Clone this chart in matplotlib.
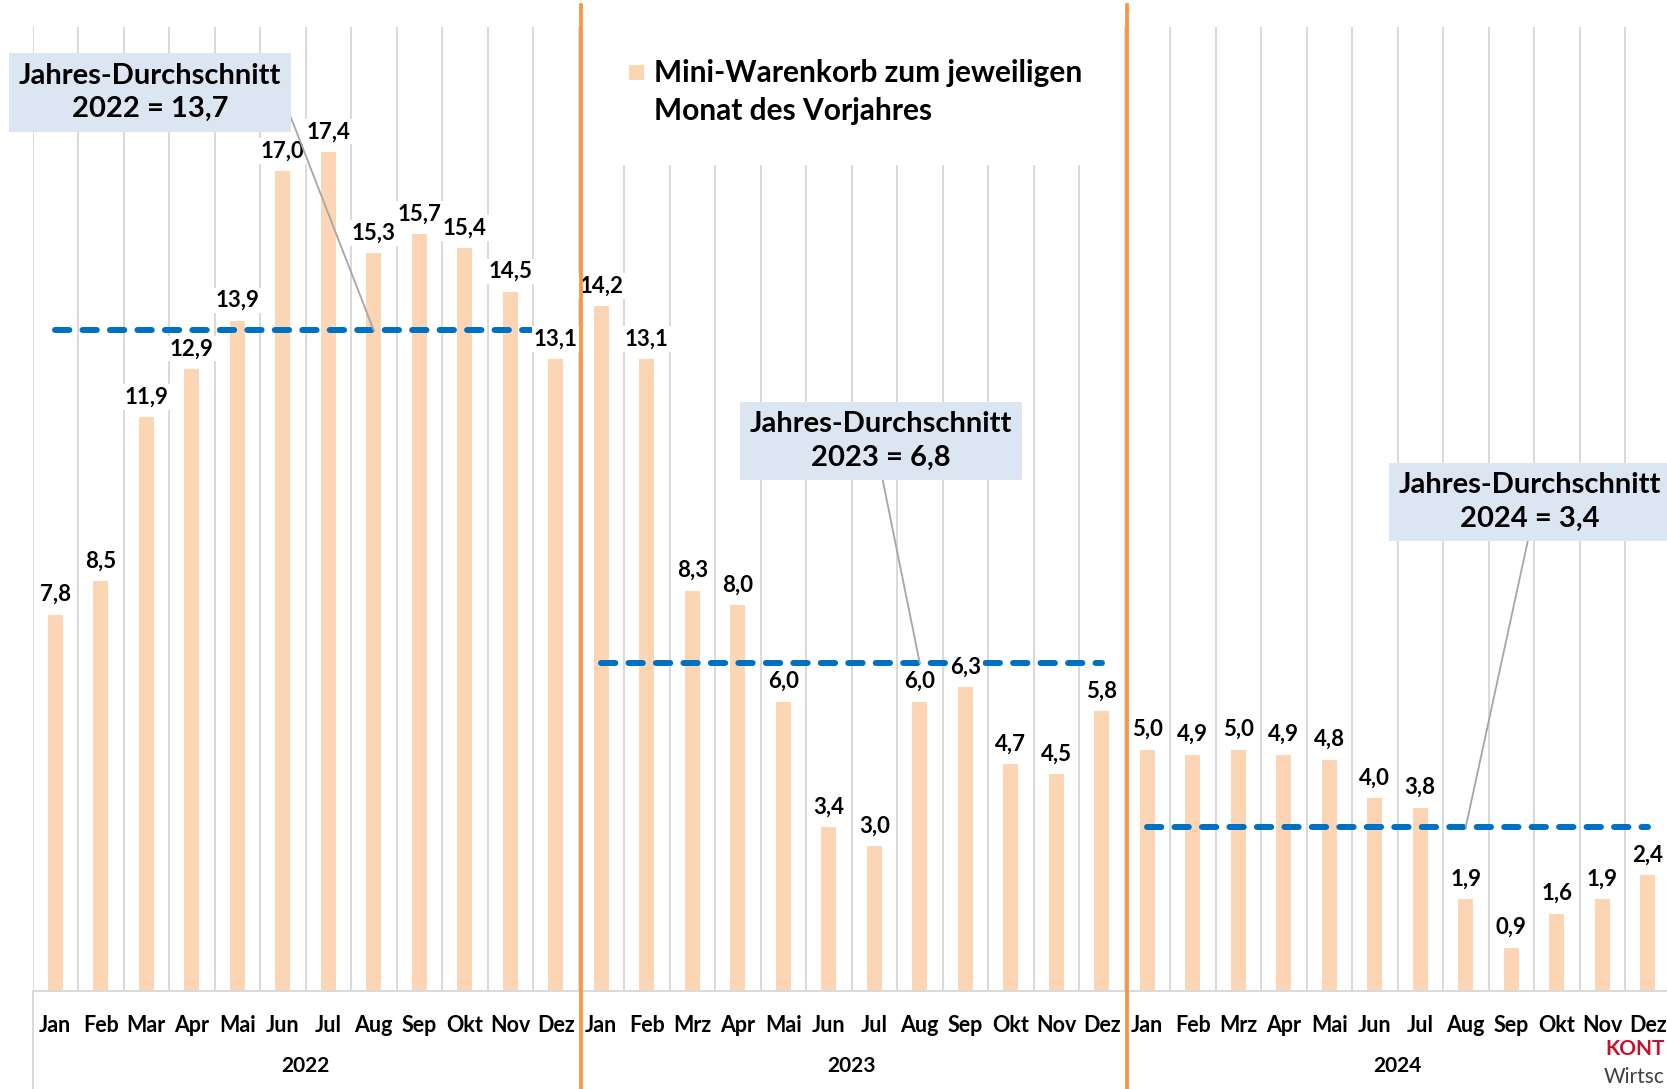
import numpy as np
import matplotlib
matplotlib.use("Agg")
import matplotlib.pyplot as plt
from matplotlib.patches import Rectangle
from matplotlib import transforms

plt.rcParams['font.family'] = ['Lato', 'DejaVu Sans']

# data
years = ['2022', '2023', '2024']
months_2022 = ['Jan', 'Feb', 'Mar', 'Apr', 'Mai', 'Jun', 'Jul', 'Aug', 'Sep', 'Okt', 'Nov', 'Dez']
months_2023 = ['Jan', 'Feb', 'Mrz', 'Apr', 'Mai', 'Jun', 'Jul', 'Aug', 'Sep', 'Okt', 'Nov', 'Dez']
months_2024 = ['Jan', 'Feb', 'Mrz', 'Apr', 'Mai', 'Jun', 'Jul', 'Aug', 'Sep', 'Okt', 'Nov', 'Dez']
vals_2022 = [7.8, 8.5, 11.9, 12.9, 13.9, 17.0, 17.4, 15.3, 15.7, 15.4, 14.5, 13.1]
vals_2023 = [14.2, 13.1, 8.3, 8.0, 6.0, 3.4, 3.0, 6.0, 6.3, 4.7, 4.5, 5.8]
vals_2024 = [5.0, 4.9, 5.0, 4.9, 4.8, 4.0, 3.8, 1.9, 0.9, 1.6, 1.9, 2.4]
averages = [13.7, 6.8, 3.4]
avg_texts = ['Jahres-Durchschnitt\n2022 = 13,7',
             'Jahres-Durchschnitt\n2023 = 6,8',
             'Jahres-Durchschnitt\n2024 = 3,4']
legend_label = 'Mini-Warenkorb zum jeweiligen\nMonat des Vorjahres'

BAR = '#FCD5B5'
BLUE = '#0070C0'
ORANGE = '#F79646'
GRID = '#D9D9D9'
BOX = '#DCE6F2'

W, H = 1667, 1089
fig = plt.figure(figsize=(W / 100, H / 100), dpi=100)
ax = fig.add_axes([32.5 / W, 1 - 991 / H, 1638 / W, (991 - 26.6) / H])

months = months_2022 + months_2023 + months_2024
values = vals_2022 + vals_2023 + vals_2024
x = np.arange(len(values))

ax.bar(x, values, width=0.33, color=BAR, zorder=2)

ax.set_xlim(-0.5, len(values) - 0.5)
ax.set_ylim(0, 20)
ax.set_yticks([])
ax.set_xticks(x, labels=months, fontsize=15.5, fontweight='bold')
ax.set_xticks(np.arange(-0.5, len(values), 1), minor=True)
ax.tick_params(axis='x', which='both', length=0, pad=17)
ax.grid(which='minor', axis='x', color=GRID, lw=1.4)
ax.set_axisbelow(True)
for s in ['top', 'right', 'left']:
    ax.spines[s].set_visible(False)
ax.spines['bottom'].set_color(GRID)
ax.spines['bottom'].set_linewidth(1.4)
ax.axvline(-0.5, ymin=-0.11, ymax=0, color=GRID, lw=1.4, clip_on=False)

# data labels
for xi, v in zip(x, values):
    ax.annotate(f'{v:.1f}'.replace('.', ','), (xi, v), xytext=(0, 7),
                textcoords='offset points', ha='center', va='bottom',
                fontsize=16, fontweight='bold',
                bbox=dict(boxstyle='square,pad=0.1', fc='white', ec='none'),
                zorder=5)

# yearly average lines
box_centers = [(150, H - 92.5), (880.8, H - 441), (1529.8, H - 502)]
rel = [(1.0, 0.5), (0.5, 0.0), (0.5, 0.0)]
trans = transforms.blended_transform_factory(ax.transData, ax.transAxes)
for k, yr in enumerate(years):
    xs = x[12 * k:12 * k + 12]
    ax.plot(xs, [averages[k]] * len(xs), color=BLUE, lw=4.3,
            ls=(0, (2.4, 2.2)), dash_capstyle='round', zorder=3)
    ax.annotate(avg_texts[k], xy=(12 * k + 7, averages[k]), xytext=box_centers[k],
                textcoords='figure pixels', ha='center', va='center',
                fontsize=21, fontweight='bold', linespacing=1.35,
                bbox=dict(boxstyle='square,pad=0.33', fc=BOX, ec='none'),
                arrowprops=dict(arrowstyle='-', color='#A6A6A6', lw=1.3,
                                relpos=rel[k], shrinkA=0, shrinkB=0),
                zorder=7)
    ax.text(12 * k + 5.5, -0.078, yr, transform=trans, ha='center', va='center',
            fontsize=15, fontweight='bold')

# year separators
for b in [11.5, 23.5]:
    ax.axvline(b + 0.05, ymin=-0.11, ymax=1.022, color=ORANGE, lw=2.7,
               clip_on=False, zorder=8)

# legend
ax.add_patch(Rectangle((590 / W, 1 - 165 / H), 526 / W, 140 / H, transform=fig.transFigure,
                       fc='white', ec='none', clip_on=False, zorder=4))
ax.add_patch(Rectangle((629 / W, 1 - 80 / H), 15 / W, 15 / H, transform=fig.transFigure,
                       fc=BAR, ec='none', clip_on=False, zorder=5))
ax.text(654 / W, 1 - 92 / H, legend_label, transform=fig.transFigure, ha='left',
        va='center', fontsize=21.5, fontweight='bold', linespacing=1.43, zorder=5)

# logo (only the visible part at the right edge)
fig.text(1605 / W, 1 - 1049 / H, 'KONT', color='#C8102E', fontsize=15,
         fontweight='bold', ha='left', va='center')
fig.text(1604 / W, 1 - 1077 / H, 'Wirtsc', color='#404040', fontsize=15,
         ha='left', va='center')

fig.savefig('out.png', dpi=100)
